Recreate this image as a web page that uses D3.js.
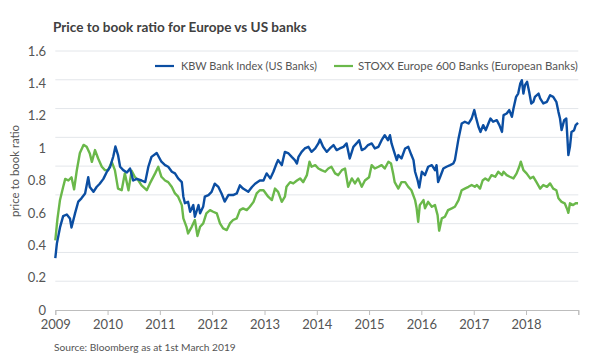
<!DOCTYPE html>
<html>
<head>
<meta charset="utf-8">
<script src="https://cdn.jsdelivr.net/npm/d3@7"></script>
<style>
  html, body { margin: 0; padding: 0; background: #fff; }
  svg { display: block; }
  text { font-family: "Lato", "Noto Sans", sans-serif; }
</style>
</head>
<body>
<svg id="chart" width="600" height="356"></svg>
<script>
// ---------------- DATA ----------------
const titleText = "Price to book ratio for Europe vs US banks";
const yAxisLabel = "price to book ratio";
const sourceText = "Source: Bloomberg as at 1st March 2019";
const seriesNames = ["KBW Bank Index (US Banks)", "STOXX Europe 600 Banks (European Banks)"];
const yTicks = [0, 0.2, 0.4, 0.6, 0.8, 1.0, 1.2, 1.4, 1.6];
const xTickYears = [2009, 2010, 2011, 2012, 2013, 2014, 2015, 2016, 2017, 2018, 2019];

// KBW Bank Index (US) – decimal year / price-to-book
const usYears = [2009.00,2009.03,2009.09,2009.15,2009.22,2009.28,2009.31,2009.38,2009.44,2009.50,2009.57,2009.63,2009.66,2009.73,2009.79,2009.85,2009.92,2009.98,
2010.05,2010.11,2010.15,2010.20,2010.24,2010.30,2010.37,2010.43,2010.49,2010.56,2010.65,2010.72,2010.78,2010.84,2010.94,
2011.03,2011.10,2011.16,2011.23,2011.29,2011.35,2011.42,2011.45,2011.48,2011.54,2011.58,2011.64,2011.67,2011.74,2011.77,2011.83,2011.86,2011.93,2011.99,
2012.05,2012.12,2012.18,2012.24,2012.31,2012.40,2012.47,2012.53,2012.59,2012.69,2012.76,2012.82,2012.91,2012.98,
2013.04,2013.11,2013.17,2013.23,2013.26,2013.33,2013.39,2013.46,2013.52,2013.58,2013.62,2013.65,2013.71,2013.77,2013.84,2013.90,2013.97,
2014.03,2014.06,2014.12,2014.19,2014.25,2014.32,2014.38,2014.44,2014.51,2014.57,2014.63,2014.70,2014.76,2014.81,2014.86,2014.92,2014.98,
2015.05,2015.11,2015.18,2015.24,2015.30,2015.36,2015.40,2015.43,2015.48,2015.53,2015.56,2015.62,2015.69,2015.75,2015.81,2015.85,2015.88,2015.93,2015.96,
2016.01,2016.07,2016.13,2016.20,2016.26,2016.29,2016.32,2016.36,2016.42,2016.48,2016.55,2016.61,2016.64,2016.71,2016.77,2016.83,2016.90,2016.96,
2017.01,2017.04,2017.09,2017.13,2017.18,2017.23,2017.28,2017.32,2017.37,2017.44,2017.49,2017.54,2017.57,2017.63,2017.68,2017.73,2017.76,2017.81,2017.85,2017.89,2017.92,2017.95,2017.98,
2018.02,2018.06,2018.10,2018.14,2018.17,2018.24,2018.27,2018.33,2018.40,2018.46,2018.52,2018.58,2018.62,2018.65,2018.68,2018.73,2018.77,2018.79,2018.81,2018.84,2018.87,2018.92,2018.95,2018.995];
const usValues = [0.32,0.41,0.51,0.58,0.59,0.566,0.51,0.60,0.67,0.69,0.72,0.82,0.76,0.73,0.76,0.78,0.81,0.85,
0.885,0.95,1.01,0.957,0.885,0.864,0.85,0.874,0.80,0.81,0.80,0.79,0.885,0.946,0.97,
0.916,0.895,0.885,0.854,0.844,0.813,0.79,0.70,0.66,0.668,0.607,0.648,0.576,0.648,0.597,0.64,0.70,0.71,0.73,
0.78,0.76,0.72,0.67,0.71,0.71,0.72,0.77,0.75,0.73,0.76,0.78,0.80,0.80,
0.844,0.813,0.854,0.905,0.926,0.895,0.977,0.967,0.946,0.926,0.905,0.946,0.977,0.998,1.008,0.977,0.998,
1.029,1.053,1.008,0.977,0.998,1.019,0.988,0.998,1.008,1.029,0.936,1.008,1.029,1.049,0.988,0.998,1.019,
1.029,0.998,1.008,1.049,1.08,1.049,1.08,1.029,0.977,0.926,0.957,0.936,0.998,1.008,0.957,0.926,0.854,0.80,0.757,
0.854,0.833,0.885,0.895,0.864,0.895,0.79,0.823,0.874,0.885,0.895,0.905,0.926,1.06,1.152,1.163,1.152,1.183,
1.235,1.193,1.132,1.10,1.142,1.111,1.152,1.183,1.163,1.173,1.142,1.10,1.204,1.214,1.235,1.193,1.245,1.317,1.337,1.399,1.42,1.337,1.389,
1.41,1.348,1.276,1.286,1.317,1.337,1.307,1.276,1.286,1.327,1.317,1.286,1.224,1.183,1.111,1.173,1.183,1.07,0.957,1.008,1.10,1.111,1.142,1.156];

// STOXX Europe 600 Banks – decimal year / price-to-book
const euYears = [2009.00,2009.04,2009.09,2009.15,2009.19,2009.25,2009.31,2009.36,2009.41,2009.47,2009.54,2009.60,2009.66,2009.70,2009.76,2009.82,2009.89,2009.95,
2010.01,2010.08,2010.14,2010.20,2010.27,2010.33,2010.40,2010.46,2010.52,2010.59,2010.65,2010.75,2010.81,2010.91,2010.97,
2011.03,2011.10,2011.16,2011.23,2011.29,2011.35,2011.42,2011.45,2011.51,2011.54,2011.61,2011.67,2011.72,2011.77,2011.83,2011.89,2011.96,
2012.02,2012.09,2012.15,2012.21,2012.28,2012.34,2012.40,2012.47,2012.53,2012.59,2012.66,2012.72,2012.79,2012.85,2012.91,2012.98,
2013.07,2013.14,2013.20,2013.26,2013.33,2013.39,2013.42,2013.49,2013.55,2013.62,2013.68,2013.74,2013.81,2013.86,2013.90,2013.97,
2014.03,2014.09,2014.16,2014.22,2014.28,2014.35,2014.41,2014.48,2014.54,2014.60,2014.67,2014.73,2014.79,2014.86,2014.92,2015.00,
2015.05,2015.11,2015.18,2015.24,2015.30,2015.37,2015.42,2015.46,2015.49,2015.56,2015.62,2015.69,2015.75,2015.81,2015.88,2015.91,2015.94,2015.97,
2016.04,2016.07,2016.13,2016.20,2016.26,2016.31,2016.34,2016.39,2016.45,2016.51,2016.58,2016.64,2016.71,2016.77,2016.83,2016.90,2016.96,
2017.02,2017.06,2017.12,2017.17,2017.22,2017.28,2017.34,2017.41,2017.47,2017.54,2017.57,2017.63,2017.69,2017.76,2017.82,2017.87,2017.90,2017.95,
2018.01,2018.08,2018.14,2018.20,2018.27,2018.33,2018.40,2018.46,2018.52,2018.58,2018.62,2018.68,2018.74,2018.79,2018.81,2018.84,2018.90,2018.95,2018.995];
const euValues = [0.43,0.56,0.68,0.76,0.81,0.80,0.82,0.745,0.86,0.97,1.02,1.008,0.967,0.915,0.988,0.936,0.885,0.864,
0.864,0.915,0.864,0.75,0.74,0.844,0.74,0.86,0.823,0.80,0.77,0.74,0.782,0.844,0.885,
0.823,0.80,0.79,0.76,0.72,0.70,0.648,0.566,0.514,0.473,0.514,0.556,0.457,0.514,0.535,0.597,0.617,
0.607,0.597,0.535,0.504,0.494,0.535,0.556,0.566,0.617,0.628,0.617,0.638,0.668,0.72,0.74,0.74,
0.70,0.679,0.75,0.73,0.668,0.70,0.761,0.79,0.782,0.80,0.813,0.79,0.833,0.916,0.885,0.895,
0.874,0.864,0.854,0.874,0.885,0.844,0.833,0.864,0.874,0.761,0.813,0.782,0.813,0.761,0.80,0.82,
0.895,0.874,0.885,0.895,0.874,0.916,0.905,0.844,0.79,0.75,0.79,0.79,0.761,0.74,0.679,0.628,0.545,0.648,
0.679,0.628,0.668,0.638,0.648,0.586,0.49,0.566,0.576,0.617,0.628,0.638,0.679,0.74,0.75,0.761,0.772,
0.761,0.772,0.75,0.80,0.813,0.80,0.833,0.823,0.854,0.833,0.854,0.833,0.823,0.813,0.844,0.885,0.916,0.864,
0.844,0.813,0.823,0.79,0.75,0.772,0.761,0.782,0.75,0.74,0.69,0.668,0.659,0.62,0.60,0.659,0.648,0.659,0.659];

// ---------------- CHART ----------------
const plot = { left: 55.3, right: 578.3, top: 51, bottom: 310 };
const colors = ["#0b4ea2", "#6ab84a"];
const textColor = "#555555";

const svg = d3.select("#chart");

function toDate(dy) {
  const yr = Math.floor(dy);
  const start = Date.UTC(yr, 0, 1), end = Date.UTC(yr + 1, 0, 1);
  return new Date(start + (dy - yr) * (end - start));
}

const x = d3.scaleUtc()
  .domain([new Date(Date.UTC(xTickYears[0], 0, 1)), new Date(Date.UTC(xTickYears[xTickYears.length - 1], 0, 1))])
  .range([plot.left, plot.right]);
const y = d3.scaleLinear().domain([0, 1.6]).range([plot.bottom, plot.top]);
// background grid of the original plot area (9 equal bands, not aligned with labels)
const grid = d3.scaleLinear().domain([0, 9]).range([plot.bottom, plot.top]);

function fitText(sel, target) {
  sel.each(function () {
    const node = this;
    const fs = parseFloat(node.getAttribute("font-size"));
    const w = node.getComputedTextLength();
    if (w > 0) node.setAttribute("font-size", (fs * target / w).toFixed(2));
  });
}

// gridlines
svg.append("g").selectAll("line")
  .data(d3.range(1, 10))
  .join("line")
  .attr("x1", plot.left).attr("x2", plot.right)
  .attr("y1", d => grid(d)).attr("y2", d => grid(d))
  .attr("stroke", "#e3e6ea").attr("stroke-width", 1);

// y axis labels
const yAxis = d3.axisLeft(y).tickValues(yTicks).tickSize(0).tickPadding(0)
  .tickFormat(d => d3.format("~g")(+d.toFixed(1)));
const gy = svg.append("g").attr("transform", `translate(46,0)`).call(yAxis);
gy.select(".domain").remove();
gy.selectAll("text").attr("font-size", 13).attr("fill", textColor)
  .attr("font-family", "Lato, 'Noto Sans', sans-serif");

// x axis
const xAxis = d3.axisBottom(x)
  .tickValues(xTickYears.map(yr => new Date(Date.UTC(yr, 0, 1))))
  .tickSize(5).tickPadding(5)
  .tickFormat(d => d.getUTCFullYear() < xTickYears[xTickYears.length - 1] ? d3.utcFormat("%Y")(d) : "");
const gx = svg.append("g").attr("transform", `translate(0,${plot.bottom})`).call(xAxis);
gx.select(".domain").attr("stroke", "#bdbdbd");
gx.selectAll(".tick line").attr("stroke", "#bdbdbd");
gx.selectAll("text").attr("font-size", 13).attr("fill", textColor)
  .attr("font-family", "Lato, 'Noto Sans', sans-serif");

// lines
const line = d3.line().x(d => x(toDate(d[0]))).y(d => y(d[1])).curve(d3.curveLinear);
const seriesData = [
  { pts: d3.zip(euYears, euValues), color: colors[1] },
  { pts: d3.zip(usYears, usValues), color: colors[0] }
];
svg.append("g").selectAll("path")
  .data(seriesData)
  .join("path")
  .attr("d", d => line(d.pts))
  .attr("fill", "none")
  .attr("stroke", d => d.color)
  .attr("stroke-width", 2.4)
  .attr("stroke-linejoin", "round");

// title
svg.append("text").attr("x", 53).attr("y", 32)
  .attr("font-size", 14).attr("font-weight", 700).attr("fill", "#404040")
  .text(titleText).call(fitText, 254);

// y-axis title
svg.append("text")
  .attr("transform", `translate(19,171) rotate(-90)`)
  .attr("text-anchor", "middle")
  .attr("font-size", 12).attr("fill", textColor)
  .text(yAxisLabel).call(fitText, 92);

// legend
const legendItems = [
  { name: seriesNames[0], color: colors[0], x0: 155, tx: 181, tw: 136 },
  { name: seriesNames[1], color: colors[1], x0: 334, tx: 358, tw: 220 }
];
const lg = svg.append("g");
legendItems.forEach(it => {
  lg.append("line").attr("x1", it.x0).attr("x2", it.x0 + 19)
    .attr("y1", 66).attr("y2", 66).attr("stroke", it.color).attr("stroke-width", 2.2);
  lg.append("text").attr("x", it.tx).attr("y", 70)
    .attr("font-size", 12).attr("fill", textColor)
    .text(it.name).call(fitText, it.tw);
});

// source
svg.append("text").attr("x", 54).attr("y", 351)
  .attr("font-size", 11).attr("fill", textColor)
  .text(sourceText).call(fitText, 182);
</script>
</body>
</html>
